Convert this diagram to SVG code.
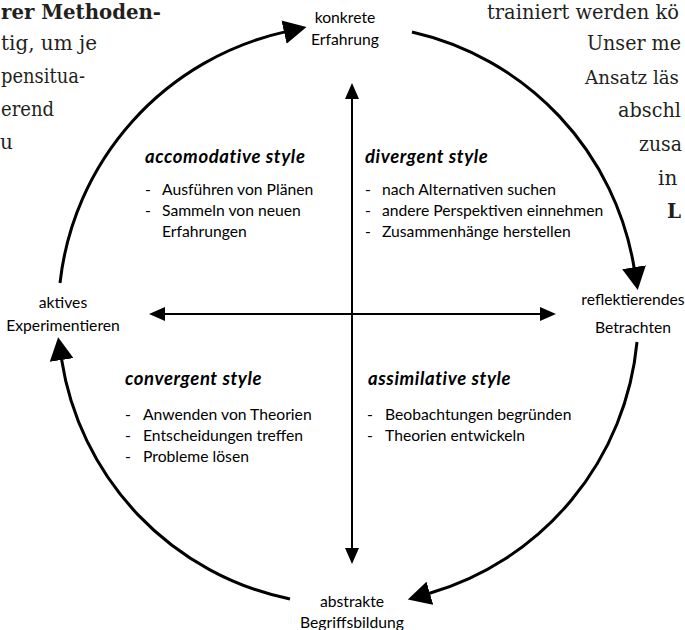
<svg xmlns="http://www.w3.org/2000/svg" width="685" height="630" viewBox="0 0 685 630">
<style>
.bg{font-family:"DejaVu Serif","Liberation Serif",serif;font-size:20px;fill:#231f20}
.bgb{font-weight:bold}
.nd{font-family:Lato,"Liberation Sans",sans-serif;font-size:15.7px;fill:#000;text-anchor:middle}
.it{font-family:Lato,"Liberation Sans",sans-serif;font-size:15.7px;fill:#000}
.hd{font-family:Lato,"Liberation Sans",sans-serif;font-size:18.5px;letter-spacing:0.6px;font-weight:bold;font-style:italic;fill:#000}
.cyc{fill:none;stroke:#000;stroke-width:3;marker-end:url(#ah)}
.ax{fill:none;stroke:#000;stroke-width:2;marker-start:url(#sa);marker-end:url(#sa)}
</style>
<defs>
<marker id="ah" markerUnits="userSpaceOnUse" viewBox="0 0 23 24" markerWidth="23" markerHeight="24" refX="1" refY="12" orient="auto"><path d="M0,0 L23,12 L0,24 Z" fill="#000"/></marker>
<marker id="sa" markerUnits="userSpaceOnUse" viewBox="0 0 16 14" markerWidth="16" markerHeight="14" refX="1" refY="7" orient="auto-start-reverse"><path d="M0,0 L16,7 L0,14 Z" fill="#000"/></marker>
</defs>
<rect width="685" height="630" fill="#fff"/>
<g id="background-text">
<text class="bg bgb" x="1" y="19" textLength="160" lengthAdjust="spacingAndGlyphs">rer Methoden-</text>
<text class="bg" x="1" y="50" textLength="96" lengthAdjust="spacingAndGlyphs">tig, um je</text>
<text class="bg" x="1" y="83" textLength="84" lengthAdjust="spacingAndGlyphs">pensitua-</text>
<text class="bg" x="1" y="116" textLength="53" lengthAdjust="spacingAndGlyphs">erend</text>
<text class="bg" x="0" y="149">u</text>
<text class="bg" x="487" y="19" textLength="192" lengthAdjust="spacingAndGlyphs">trainiert werden kö</text>
<text class="bg" x="587" y="50" textLength="94" lengthAdjust="spacingAndGlyphs">Unser me</text>
<text class="bg" x="585" y="84" style="font-size:19px" textLength="94" lengthAdjust="spacingAndGlyphs">Ansatz läs</text>
<text class="bg" x="618" y="117" textLength="63" lengthAdjust="spacingAndGlyphs">abschl</text>
<text class="bg" x="639" y="151" textLength="43" lengthAdjust="spacingAndGlyphs">zusa</text>
<text class="bg" x="658" y="185">in</text>
<text class="bg bgb" x="667" y="218">L</text>
</g>
<g id="connectors">
<path class="cyc" d="M412,32 A290,290 0 0 1 634.2,268.2"/>
<path class="cyc" d="M637,342 A290,290 0 0 1 428.9,593.5"/>
<path class="cyc" d="M290,599 A290,290 0 0 1 61.5,359"/>
<path class="cyc" d="M60,283 A290,290 0 0 1 285,31.9"/>
<path class="ax" d="M352,98 L352,549"/>
<path class="ax" d="M164,314 L541,314"/>
</g>
<g id="node-konkrete">
<text class="nd" x="345" y="23">konkrete</text>
<text class="nd" x="345" y="45">Erfahrung</text>
</g>
<g id="node-reflektierendes">
<text class="nd" x="633" y="305">reflektierendes</text>
<text class="nd" x="633" y="333">Betrachten</text>
</g>
<g id="node-abstrakte">
<text class="nd" x="352" y="607">abstrakte</text>
<text class="nd" x="352" y="628">Begriffsbildung</text>
</g>
<g id="node-aktives">
<text class="nd" x="63" y="308">aktives</text>
<text class="nd" x="63" y="331">Experimentieren</text>
</g>
<g id="quad-accomodative">
<text class="hd" x="145" y="163">accomodative style</text>
<text class="it" x="145" y="195">-</text><text class="it" x="162" y="195">Ausführen von Plänen</text>
<text class="it" x="145" y="216">-</text><text class="it" x="162" y="216">Sammeln von neuen</text>
<text class="it" x="162" y="237">Erfahrungen</text>
</g>
<g id="quad-divergent">
<text class="hd" x="365" y="163">divergent style</text>
<text class="it" x="365" y="195">-</text><text class="it" x="382" y="195">nach Alternativen suchen</text>
<text class="it" x="365" y="216">-</text><text class="it" x="382" y="216">andere Perspektiven einnehmen</text>
<text class="it" x="365" y="237">-</text><text class="it" x="382" y="237">Zusammenhänge herstellen</text>
</g>
<g id="quad-convergent">
<text class="hd" x="125" y="385">convergent style</text>
<text class="it" x="125" y="420">-</text><text class="it" x="143" y="420">Anwenden von Theorien</text>
<text class="it" x="125" y="441">-</text><text class="it" x="143" y="441">Entscheidungen treffen</text>
<text class="it" x="125" y="462">-</text><text class="it" x="143" y="462">Probleme lösen</text>
</g>
<g id="quad-assimilative">
<text class="hd" x="368" y="385">assimilative style</text>
<text class="it" x="367" y="420">-</text><text class="it" x="385" y="420">Beobachtungen begründen</text>
<text class="it" x="367" y="441">-</text><text class="it" x="385" y="441">Theorien entwickeln</text>
</g>
</svg>
